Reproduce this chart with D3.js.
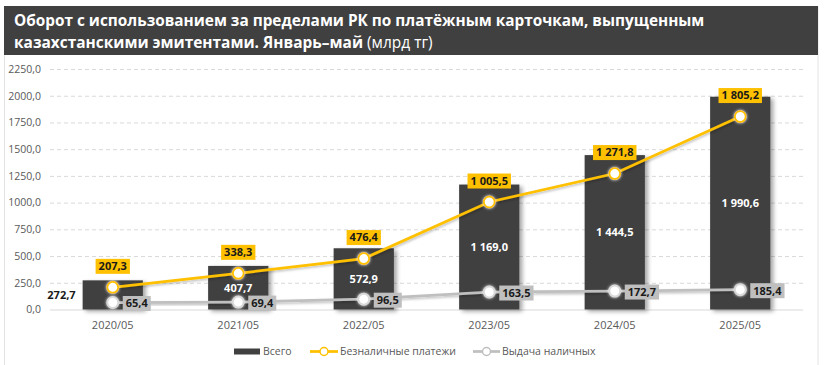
<!DOCTYPE html>
<html><head><meta charset="utf-8">
<script src="https://cdn.jsdelivr.net/npm/d3@7"></script>
<style>
html,body{margin:0;padding:0;background:#fff;}
svg{display:block;}
text{font-family:"Open Sans","Noto Sans",sans-serif;}
</style></head>
<body>
<svg id="chart" width="829" height="365"></svg>
<script>
const categories = ["2020/05","2021/05","2022/05","2023/05","2024/05","2025/05"];
const totalValues = [272.7, 407.7, 572.9, 1169.0, 1444.5, 1990.6];
const cashlessValues = [207.3, 338.3, 476.4, 1005.5, 1271.8, 1805.2];
const cashValues = [65.4, 69.4, 96.5, 163.5, 172.7, 185.4];
const yTicks = [0, 250, 500, 750, 1000, 1250, 1500, 1750, 2000, 2250];
const seriesNames = ["Всего", "Безналичные платежи", "Выдача наличных"];
const titleLine1 = "Оборот с использованием за пределами РК по платёжным карточкам, выпущенным";
const titleLine2Bold = "казахстанскими эмитентами. Январь–май";
const titleLine2Reg = " (млрд тг)";

const W = 829, H = 365;
const svg = d3.select("#chart");
const C = {dark:"#404040", yellow:"#FFC000", gray:"#BFBFBF", text:"#595959", grid:"#D9D9D9"};

const loc = d3.formatLocale({decimal:",", thousands:"\u00a0", grouping:[3], currency:["",""]});
const fmtTick = loc.format(".1f");
const fmtVal = loc.format(",.1f");

const defs = svg.append("defs");
const sh = defs.append("filter").attr("id","barShadow").attr("x","-20%").attr("y","-20%").attr("width","150%").attr("height","150%");
sh.append("feDropShadow").attr("dx",3).attr("dy",2).attr("stdDeviation",2).attr("flood-color","#000").attr("flood-opacity",0.35);
const gl = defs.append("filter").attr("id","glow").attr("x","-80%").attr("y","-80%").attr("width","260%").attr("height","260%");
gl.append("feDropShadow").attr("dx",0).attr("dy",0).attr("stdDeviation",1.6).attr("flood-color","#fff").attr("flood-opacity",0.9);
const lsh = defs.append("filter").attr("id","lineShadow").attr("x","-5%").attr("y","-20%").attr("width","110%").attr("height","140%");
lsh.append("feDropShadow").attr("dx",1).attr("dy",1.5).attr("stdDeviation",1.2).attr("flood-color","#000").attr("flood-opacity",0.25);

// chart frame
svg.append("rect").attr("x",4.5).attr("y",6.5).attr("width",813.5).attr("height",H).attr("fill","#fff").attr("stroke","#E3E3E3");

// header band
svg.append("rect").attr("x",4).attr("y",6).attr("width",814).attr("height",49).attr("fill",C.dark);
function titleLine(yPos, targetW, parts){
  const g = svg.append("g");
  const t = g.append("text").attr("x",0).attr("y",0).attr("fill","#fff").attr("font-size",16);
  parts.forEach(p => t.append("tspan").attr("font-weight",p.w).text(p.s));
  const nat = t.node().getComputedTextLength();
  g.attr("transform",`translate(14,${yPos}) scale(${targetW/nat},1)`);
}
titleLine(26, 691, [{s:titleLine1, w:700}]);
titleLine(48, 419, [{s:titleLine2Bold, w:700},{s:titleLine2Reg, w:400}]);

// scales
const x = d3.scaleBand().domain(categories).range([50, 803]).padding(0);
const y = d3.scaleLinear().domain([0, 2250]).range([309.5, 69]);
const cx = d => x(d) + x.bandwidth()/2;
const barW = x.bandwidth()*0.48;

// grid
const yAxis = d3.axisLeft(y).tickValues(yTicks).tickSize(-(803-50)).tickFormat(fmtTick).tickPadding(9);
const gy = svg.append("g").attr("transform","translate(50,0)").call(yAxis);
gy.select(".domain").remove();
gy.selectAll(".tick line").attr("stroke",C.grid).attr("stroke-dasharray",d => d===0 ? null : "4,3");
gy.selectAll(".tick text").attr("fill",C.text).attr("font-size",10.5).attr("font-family","'Open Sans',sans-serif");

// x axis labels
const xAxis = d3.axisBottom(x).tickSize(0).tickPadding(12);
const gx = svg.append("g").attr("transform","translate(0,309.5)").call(xAxis);
gx.select(".domain").remove();
gx.selectAll(".tick text").attr("fill",C.text).attr("font-size",11).attr("font-family","'Open Sans',sans-serif");

// bars
svg.append("g").selectAll("rect").data(categories).join("rect")
  .attr("x", d => cx(d) - barW/2)
  .attr("width", barW)
  .attr("y", (d,i) => y(totalValues[i]))
  .attr("height", (d,i) => y(0) - y(totalValues[i]))
  .attr("fill", C.dark)
  .attr("filter","url(#barShadow)");

// bar labels
svg.append("g").selectAll("text").data(categories).join("text")
  .attr("x", (d,i) => i===0 ? cx(d) - barW/2 - 7 : cx(d))
  .attr("y", (d,i) => (y(totalValues[i]) + y(0))/2)
  .attr("dy","0.35em")
  .attr("text-anchor", (d,i) => i===0 ? "end" : "middle")
  .attr("fill", (d,i) => i===0 ? "#1a1a1a" : "#fff")
  .attr("font-size",11).attr("font-weight",700)
  .text((d,i) => fmtVal(totalValues[i]));

// lines
const lineGen = vals => d3.line().x((d,i) => cx(categories[i])).y(d => y(d))(vals);
svg.append("path").attr("d", lineGen(cashValues)).attr("fill","none").attr("stroke",C.gray).attr("stroke-width",2.75).attr("filter","url(#lineShadow)");
svg.append("path").attr("d", lineGen(cashlessValues)).attr("fill","none").attr("stroke",C.yellow).attr("stroke-width",2.75).attr("filter","url(#lineShadow)");

// markers
function markers(vals, color){
  svg.append("g").selectAll("circle").data(vals).join("circle")
    .attr("cx",(d,i) => cx(categories[i])).attr("cy", d => y(d)).attr("r",5.5)
    .attr("fill","#fff").attr("stroke",color).attr("stroke-width",2).attr("filter","url(#glow)");
}
markers(cashValues, "#D9D9D9");
markers(cashlessValues, C.yellow);

// labels with boxes
function boxLabels(vals, bg, pos){
  const g = svg.append("g");
  vals.forEach((v,i) => {
    const px = cx(categories[i]), py = y(v);
    const lg = g.append("g");
    const t = lg.append("text").attr("font-size",11).attr("font-weight",700).attr("fill","#1a1a1a").attr("dy","0.35em").text(fmtVal(v));
    const w = t.node().getComputedTextLength();
    let bx, by;
    if (pos === "top") { bx = px - w/2 - 3; by = py - 21; }
    else { bx = px + 10; by = py + 1; }
    t.attr("x", bx + 3).attr("y", by);
    lg.insert("rect","text").attr("x",bx).attr("y",by-7.5).attr("width",w+6).attr("height",15).attr("fill",bg);
  });
}
boxLabels(cashValues, C.gray, "right");
boxLabels(cashlessValues, C.yellow, "top");

// legend
const ly = 351.5;
const lg = svg.append("g");
lg.append("rect").attr("x",234).attr("y",ly-3).attr("width",26).attr("height",6).attr("fill",C.dark);
lg.append("text").attr("x",263).attr("y",ly).attr("dy","0.35em").attr("font-size",10.5).attr("fill",C.text).text(seriesNames[0]);
lg.append("line").attr("x1",310).attr("x2",338).attr("y1",ly).attr("y2",ly).attr("stroke",C.yellow).attr("stroke-width",2.75);
lg.append("circle").attr("cx",324).attr("cy",ly).attr("r",4).attr("fill","#fff").attr("stroke",C.yellow).attr("stroke-width",1.5);
lg.append("text").attr("x",340).attr("y",ly).attr("dy","0.35em").attr("font-size",10.5).attr("fill",C.text).text(seriesNames[1]);
lg.append("line").attr("x1",473).attr("x2",500).attr("y1",ly).attr("y2",ly).attr("stroke",C.gray).attr("stroke-width",2.75);
lg.append("circle").attr("cx",486.5).attr("cy",ly).attr("r",4).attr("fill","#fff").attr("stroke",C.gray).attr("stroke-width",1.5);
lg.append("text").attr("x",502).attr("y",ly).attr("dy","0.35em").attr("font-size",10.5).attr("fill",C.text).text(seriesNames[2]);
</script>
</body></html>
